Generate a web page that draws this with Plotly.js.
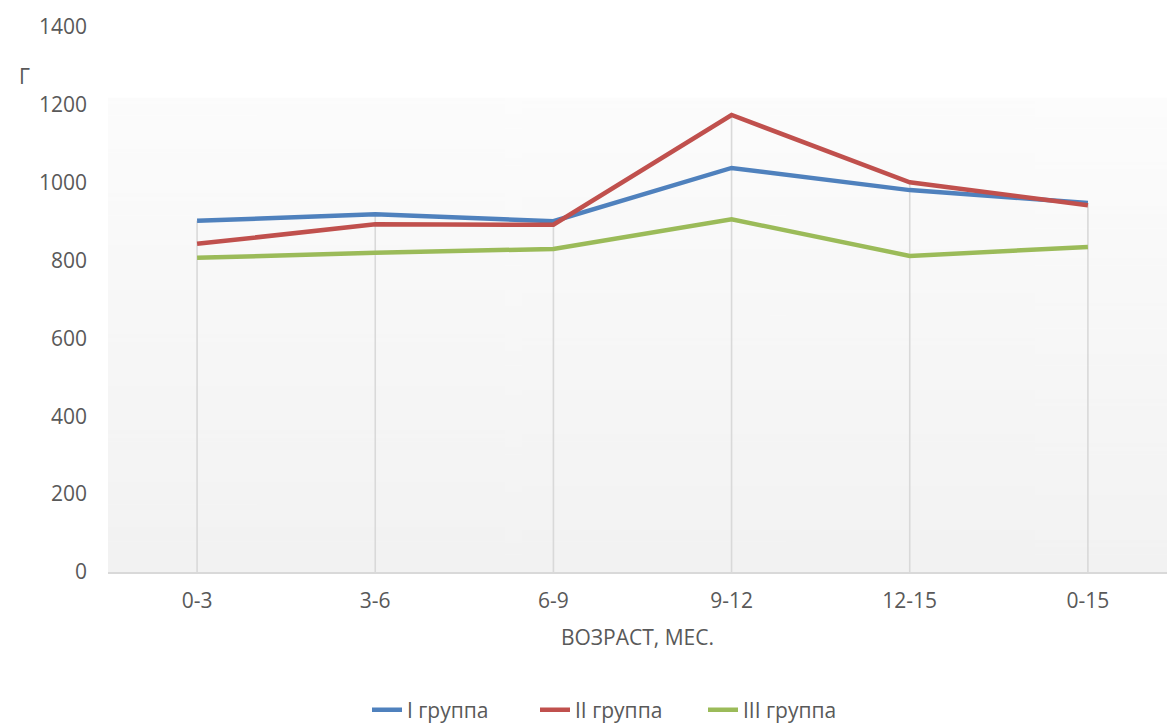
<!DOCTYPE html>
<html>
<head>
<meta charset="utf-8">
<script src="https://cdn.plot.ly/plotly-3.0.1.min.js"></script>
<style>
  html, body { margin: 0; padding: 0; background: #ffffff; }
  #chart { width: 1167px; height: 723px; }
</style>
</head>
<body>
<div id="chart"></div>
<script>
// Age intervals, months
const ageGroups = ['0-3', '3-6', '6-9', '9-12', '12-15', '0-15'];

// Weight gain, g
const group1 = [902, 919, 901, 1038, 981, 948];
const group2 = [843, 893, 892, 1174, 1001, 942];
const group3 = [807, 820, 830, 906, 812, 835];

const seriesNames = ['I группа', 'II группа', 'III группа'];
const seriesColors = ['#4f81bd', '#c0504d', '#9bbb59'];

const yTicks = [0, 200, 400, 600, 800, 1000, 1200, 1400];

// Soft vertical gradient for the plot area
function gradientURI() {
  const c = document.createElement('canvas');
  c.width = 4; c.height = 256;
  const ctx = c.getContext('2d');
  const g = ctx.createLinearGradient(0, 0, 0, 256);
  g.addColorStop(0, '#fcfcfc');
  g.addColorStop(1, '#f2f2f2');
  ctx.fillStyle = g;
  ctx.fillRect(0, 0, 4, 256);
  return c.toDataURL('image/png');
}

// Drop lines from each category's highest value down to the axis
const dropX = [], dropY = [];
ageGroups.forEach((cat, i) => {
  const top = Math.max(group1[i], group2[i], group3[i]);
  dropX.push(cat, cat, null);
  dropY.push(0, top, null);
});

const traces = [
  {
    x: dropX, y: dropY, type: 'scatter', mode: 'lines',
    line: { color: '#d9d9d9', width: 1.6 },
    showlegend: false, hoverinfo: 'skip'
  }
];
[group1, group2, group3].forEach((vals, k) => {
  traces.push({
    x: ageGroups, y: vals, type: 'scatter', mode: 'lines',
    name: seriesNames[k],
    line: { color: seriesColors[k], width: 4.5 }
  });
});

const txt = '#595959';
const fs = 21;
const layout = {
  width: 1167, height: 723,
  margin: { l: 108, r: 0, t: 27, b: 151 },
  paper_bgcolor: '#ffffff',
  plot_bgcolor: 'rgba(0,0,0,0)',
  font: { family: '"Open Sans", "Noto Sans", sans-serif', size: fs, color: txt },
  showlegend: true,
  legend: {
    orientation: 'h',
    xref: 'container', yref: 'container',
    x: 367 / 1167, xanchor: 'left',
    y: 0.018, yanchor: 'middle',
    font: { size: fs, color: txt },
    entrywidth: 123, entrywidthmode: 'pixels',
    itemwidth: 30
  },
  xaxis: {
    type: 'category',
    categoryorder: 'array', categoryarray: ageGroups,
    range: [-0.5, 5.444],
    showgrid: false, zeroline: false,
    showline: true, linecolor: '#d9d9d9', linewidth: 1.6,
    ticks: '', ticklabelstandoff: 9,
    tickfont: { size: fs, color: txt },
    title: { text: 'ВОЗРАСТ, МЕС.', font: { size: fs, color: txt }, standoff: 17 },
    fixedrange: true
  },
  yaxis: {
    range: [0, 1400],
    tickvals: yTicks,
    showgrid: false, zeroline: false, showline: false,
    ticks: '', ticklabelstandoff: 20,
    tickfont: { size: fs, color: txt },
    fixedrange: true
  },
  images: [{
    source: gradientURI(),
    xref: 'paper', yref: 'y',
    x: 0, y: 1218, sizex: 1, sizey: 1218,
    xanchor: 'left', yanchor: 'top',
    sizing: 'stretch', layer: 'below'
  }],
  annotations: [{
    text: 'Г', xref: 'paper', yref: 'paper',
    x: -0.086, y: 0.94, showarrow: false,
    font: { size: fs, color: txt }
  }]
};

Plotly.newPlot('chart', traces, layout, { displayModeBar: false, staticPlot: true });
</script>
</body>
</html>
